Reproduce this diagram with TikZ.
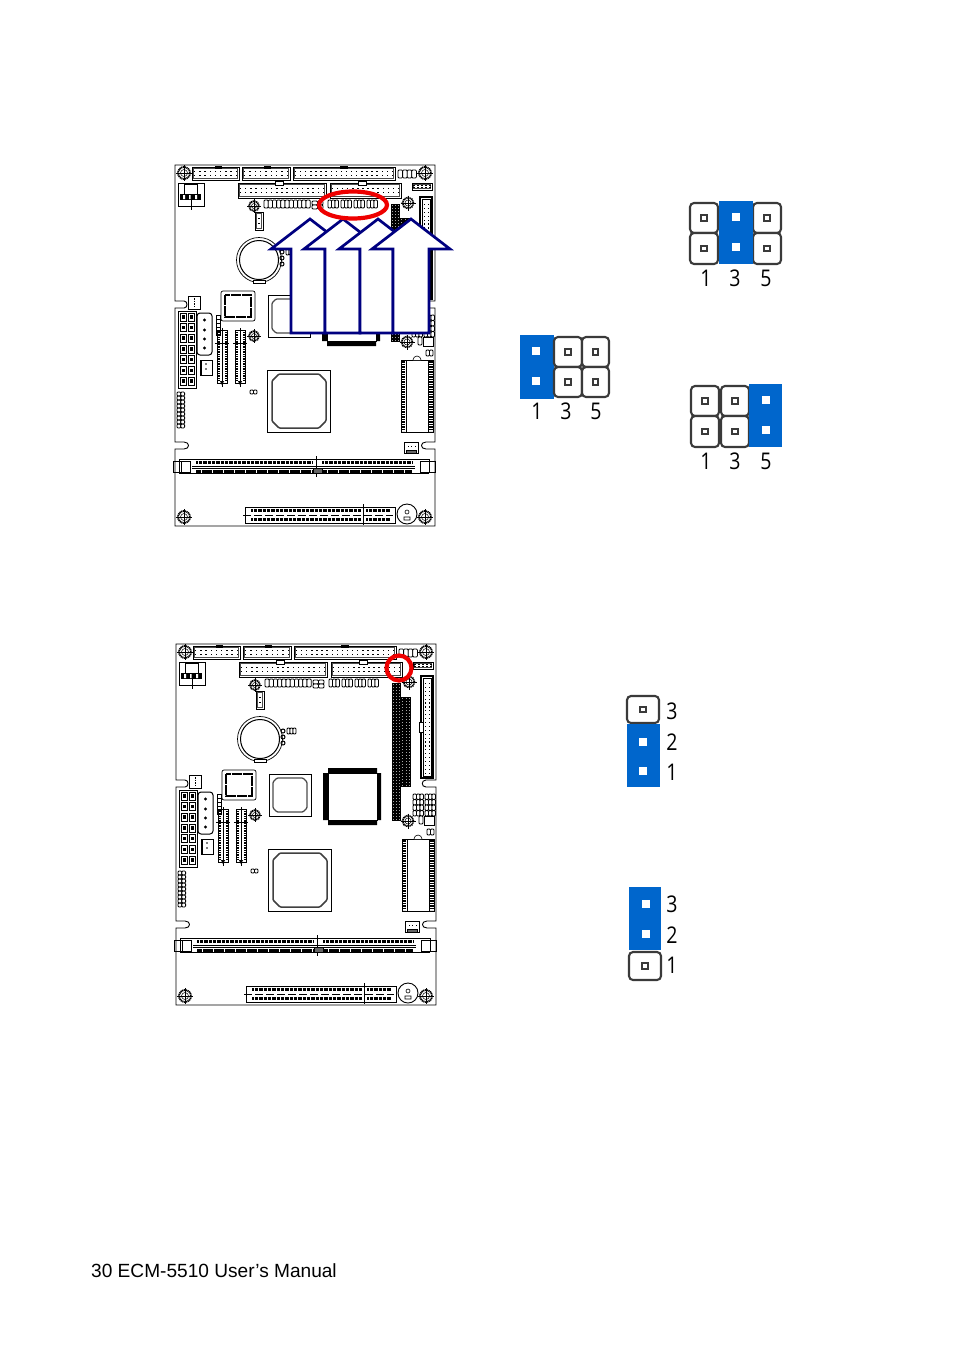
\documentclass[tikz,border=0pt]{standalone}
\usepackage{fontspec}
\setmainfont{Liberation Sans}
\newfontfamily\numfont{Open Sans}
\definecolor{jblue}{HTML}{0066CC}
\definecolor{pinedge}{HTML}{3A3A3A}
\definecolor{navyarrow}{HTML}{000080}
\definecolor{redmark}{HTML}{EE0000}
\tikzset{
  brd/.style={draw=black,line width=0.8pt},
  pinbox/.style={draw=pinedge,line width=2.1pt,rounded corners=4pt,fill=white},
  bigarrow/.style={draw=navyarrow,line width=2.7pt,fill=white,line join=miter},
  numlabel/.style={font=\numfont\fontsize{23}{23}\selectfont,text=black,inner sep=0pt,xscale=.85},
  ringmark/.style={draw=redmark,line width=4.2pt}
}
% rectangular header with two rows of dots
\newcommand{\hdr}[5]{%
  \draw[brd,fill=white] (#1,#2) rectangle (#3,#4);
  \draw[black!70,line width=.3pt] (#1+1.5,#2+1.5) rectangle (#3-1.5,#4-1.5);
  \foreach \q in {1,...,#5}{
    \fill[black] ({#1+(#3-#1)*(\q-.5)/#5-.7},{#2+(#4-#2)*.36-.7}) rectangle +(1.4,1.4);
    \fill[black] ({#1+(#3-#1)*(\q-.5)/#5-.7},{#2+(#4-#2)*.64-.7}) rectangle +(1.4,1.4);
  }}
% a row of small rounded cells
\newcommand{\cells}[5]{%
  \foreach \q in {1,...,#5}{
    \draw[black,line width=.8pt,rounded corners=1pt,fill=white] ({#1+(\q-1)*#3},#2) rectangle +(#3,#4);
  }}
\newcommand{\mounthole}[3]{%
  \draw[black,line width=1.8pt,dash pattern=on 1.2pt off .6pt] (#1,#2) circle (#3);
  \draw[black,line width=.5pt] (#1-#3-2,#2) -- (#1+#3+2,#2) (#1,#2-#3-2) -- (#1,#2+#3+2);
  \draw[black,line width=.5pt] (#1,#2) circle (#3-2.5);}
\newcommand{\pingrid}[6]{% x y columns rows cellw cellh
  \fill[black] (#1,#2) rectangle +({#3*#5},{#4*#6});
  \foreach \c in {1,...,#3}{\foreach \r in {1,...,#4}{
    \fill[black!35] ({#1+(\c-.5)*#5-.4},{#2+(\r-.5)*#6-.4}) rectangle +(.8,.8);}}}
\newcommand{\board}[1]{%
\begin{scope}[shift={#1}]
  % outline with four notches
  \draw[black,line width=.9pt,fill=white]
    (0,0) -- (260,0) -- (260,136) -- (250,136) .. controls (245,136) and (245,143) .. (250,143) -- (260,143)
    -- (260,277) -- (251,277) .. controls (245,277) and (245,284) .. (251,284) -- (260,284)
    -- (260,361) -- (0,361) -- (0,284) -- (9,284) .. controls (15,284) and (15,277) .. (9,277) -- (0,277)
    -- (0,143) -- (9,143) .. controls (13,143) and (13,136) .. (9,136) -- (0,136) -- cycle;
  % top connectors
  \hdr{17}{2}{64}{15}{9}
  \hdr{67}{2}{115}{15}{9}
  \hdr{118}{2}{220}{15}{20}
  \hdr{63}{18}{151}{33}{17}
  \hdr{155}{18}{226}{33}{14}
  \fill[white] (100,16) rectangle (108,20); \draw[black,line width=.5pt] (100,16) rectangle (108,20);
  \fill[white] (183,16) rectangle (191,20); \draw[black,line width=.5pt] (183,16) rectangle (191,20);
  \draw[black,line width=.5pt] (40,1) rectangle (46,3) (89,1) rectangle (95,3) (165,1) rectangle (172,3);
  \cells{223}{5}{4.6}{8}{4}
  \hdr{237}{18}{257}{25}{5}
  \mounthole{9}{8}{6}
  \mounthole{250}{8}{6}
  \mounthole{233}{38}{5.5}
  \mounthole{232}{177}{5.5}
  \mounthole{9}{352}{6}
  \mounthole{250}{352}{6}
  \mounthole{79}{41}{5}
  \mounthole{79}{171}{5}
  % upper left block
  \draw[black,line width=.5pt,fill=white] (3,18) rectangle (29,41);
  \draw[black,line width=.6pt] (9,19) rectangle (22,29);
  \fill[black] (5,29) rectangle (26,35);
  \fill[white] (8,30) rectangle (10,34) (14,30) rectangle (15.5,34) (20,30) rectangle (22,34);
  \draw[black,line width=.5pt] (16,35) -- (16,45);
  % small jumper rows
  \cells{89}{35}{4.2}{8}{11}
  \cells{137}{36}{5.5}{4}{2}
  \cells{137}{40}{5.5}{4}{2}
  \cells{153}{35}{3.5}{8}{3}
  \cells{166}{35}{3.5}{8}{3}
  \cells{179}{35}{3.5}{8}{3}
  \cells{192}{35}{3.5}{8}{3}
  \hdr{80}{47}{88}{65}{1}
  % battery
  \draw[black,line width=.7pt] (84,95) circle (22.5);
  \draw[black,line width=1pt] (84,95) circle (19.5);
  \draw[black,line width=.8pt,fill=white] (78,115) rectangle (90,118);
  \foreach \q in {87,93,99}{\draw[black,line width=1pt] (107,\q) circle (2);}
  \cells{111}{84}{3}{6}{3}
  % plcc
  \draw[black,line width=.7pt,rounded corners=2pt] (46,126) rectangle (80,156);
  \draw[black,line width=2.2pt,dash pattern=on .8pt off .3pt] (50,130) -- (76,130) -- (76,152) -- (50,152) -- cycle;
  % square chip
  \draw[black,line width=.6pt,fill=white] (93,130) rectangle (135,172);
  \draw[black!70,line width=1.3pt,rounded corners=1pt]
    (101,134) -- (127,134) -- (131,138) -- (131,164) -- (127,168) -- (101,168) -- (97,164) -- (97,138) -- cycle;
  % QFP
  \draw[black,line width=.6pt,fill=white] (152,129) rectangle (201,176);
  \fill[black] (152,124) rectangle (201,129) (152,176) rectangle (201,181) (147,129) rectangle (152,176) (201,129) rectangle (205,176);
  % black pin columns
  \pingrid{216}{39}{3}{46}{3}{3}
  \pingrid{225}{53}{3}{30}{3.3}{3}
  % right connector
  \draw[brd,line width=1.1pt,fill=white] (245,32) rectangle (257,134);
  \draw[black,line width=.4pt] (247,34) rectangle (255,132);
  \foreach \q in {1,...,24}{
    \fill[black] (249,{35+\q*3.9}) rectangle +(1.2,1.2);
    \fill[black] (252.5,{35+\q*3.9}) rectangle +(1.2,1.2);}
  \fill[white] (243,78) rectangle (247,88); \draw[black,line width=.5pt] (243,78) rectangle (247,88);
  % lower right jumpers
  \foreach \w in {150,155.5,161,166.5}{
    \edef\wy{\w}
    \foreach \c in {0,1,2}{
      \draw[black,line width=.8pt,rounded corners=1pt,fill=white] (237+\c*3.5,\w) rectangle +(3.5,5.5);
      \draw[black,line width=.8pt,rounded corners=1pt,fill=white] (249+\c*3.5,\w) rectangle +(3.5,5.5);}}
  \cells{243}{172}{4}{8}{1}
  \draw[brd,fill=white] (248,172) rectangle (258,181);
  \cells{251}{185}{3.5}{6}{2}
  % left power connector
  \draw[black,line width=1pt,fill=white] (3,146) rectangle (21,223);
  \foreach \r in {0,...,6}{\foreach \c in {0,1}{
    \draw[black,line width=.8pt] (5+\c*8,148+\r*10.7) rectangle +(6.5,8);
    \fill[black] (7+\c*8,150+\r*10.7) rectangle +(2.6,3.6);}}
  % four pin white connector
  \draw[black,line width=1pt,rounded corners=3pt,fill=white] (22,148) rectangle (37,190);
  \foreach \q in {155,165,174,183}{\fill[black] (29.5,\q) circle (1.6);}
  \draw[brd,fill=white] (13,131) rectangle (25,144);
  \draw[black,line width=.6pt,dash pattern=on 1.5pt off 1pt] (19,133) -- (19,143);
  \foreach \q in {150,154,158,162,166}{\draw[black,line width=.7pt] (41,\q) rectangle +(4,4);}
  % vertical slots
  \foreach \xx in {42,60}{
    \draw[black,line width=.6pt] (\xx,165) rectangle (\xx+10,218);
    \draw[black,line width=2pt,dash pattern=on 1pt off .7pt] (\xx+1.5,167) -- (\xx+1.5,216);
    \draw[black,line width=2pt,dash pattern=on 1pt off .7pt] (\xx+8.5,167) -- (\xx+8.5,216);
    \draw[black,line width=.5pt] (\xx-2,178) -- (\xx+12,178) (\xx+5,163) -- (\xx+5,222);
    \fill[black] (\xx+3,216) -- (\xx+7,216) -- (\xx+5,220) -- cycle;}
  \draw[brd,fill=white] (25,195) rectangle (37,210);
  \fill[black] (25,195) rectangle (27,210);
  \foreach \q in {199,204}{\fill[black] (31,\q) circle (.8);}
  \cells{75}{225}{3.5}{4}{2}
  % strip at left
  \foreach \w in {0,...,8}{
    \draw[black,line width=.8pt,rounded corners=1pt] (2,227+\w*4) rectangle +(3.8,4);
    \draw[black,line width=.8pt,rounded corners=1pt] (5.8,227+\w*4) rectangle +(3.8,4);}
  % large chip
  \draw[black,line width=.6pt,fill=white] (92,205) rectangle (155,267);
  \draw[black!75,line width=1.5pt,rounded corners=1pt]
    (104,209) -- (144,209) -- (151,216) -- (151,256) -- (144,263) -- (104,263) -- (97,256) -- (97,216) -- cycle;
  % DIP right
  \draw[brd,fill=white] (226,195) rectangle (258,267);
  \draw[black,line width=.5pt] (231,195) rectangle (253,267);
  \draw[black,line width=3.5pt,dash pattern=on 1.6pt off .9pt] (228,196) -- (228,266);
  \draw[black,line width=3.5pt,dash pattern=on 1.6pt off .9pt] (256,196) -- (256,266);
  \draw[black,line width=.6pt,fill=white] (238,195) arc[start angle=180,end angle=360,radius=4];
  \draw[brd,fill=white] (229,277) rectangle (243,288);
  \foreach \q in {232.5,236,239.5}{\fill[black] (\q,281) rectangle +(1.2,1.2);}
  \draw[black,fill=black!60] (231,285) rectangle (241,288);
  % DIMM
  \draw[black,line width=.8pt] (4,294) -- (254,294) (4,308) -- (254,308) (4,294) -- (4,308) (254,294) -- (254,308);
  \draw[black,line width=.5pt] (-2,296) rectangle (15,307);
  \draw[black,line width=.5pt] (245,296) rectangle (260,307);
  \draw[black,line width=.8pt,fill=white] (6,296) rectangle (15,307) (245,296) rectangle (254,307);
  \draw[black,line width=3pt,dash pattern=on 1pt off .3pt] (21,297.5) -- (137,297.5) (147,297.5) -- (237,297.5);
  \draw[black,line width=3pt,dash pattern=on .8pt off .3pt] (21,306) -- (137,306) (147,306) -- (237,306);
  \draw[black,line width=.7pt] (17,301) -- (240,301) (17,303) -- (240,303);
  \draw[black,line width=.5pt] (141,291) -- (141,312);
  \draw[black,fill=black!60,line width=.6pt] (138,303) rectangle (147,308);
  % bottom connector
  \draw[black,line width=.7pt] (70,342) rectangle (220,358);
  \draw[black,line width=2.6pt,dash pattern=on 1pt off .3pt] (76,345.5) -- (186,345.5) (191,345.5) -- (215,345.5);
  \draw[black,line width=2.6pt,dash pattern=on 1pt off .3pt] (76,354.5) -- (186,354.5) (191,354.5) -- (215,354.5);
  \draw[black,line width=.6pt,dash pattern=on 8pt off 3pt] (68,350) -- (218,350);
  \draw[black,line width=.5pt] (188,339) -- (188,360);
  \draw[black,line width=.9pt,fill=white] (232,349) circle (10);
  \draw[black,line width=.6pt] (232,347) circle (2) (229,352) rectangle (235,355);
\end{scope}}
% jumper pin
\newcommand{\pinbox}[4]{%
  \draw[pinbox] (#1,#2) rectangle (#3,#4);
  \draw[pinedge,line width=1.9pt] ({(#1+#3)/2-2.9},{(#2+#4)/2-2.9}) rectangle +(5.8,5.8);}
\newcommand{\whitesq}[2]{\fill[white] (#1-3.6,#2-3.6) rectangle +(7.2,7.2);}
\begin{document}
\begin{tikzpicture}[x=1pt,y=-1pt]
  \useasboundingbox[fill=white] (0,0) rectangle (954,1350);
  \board{(175,165)}
  \board{(176,644)}
  % arrows
  \foreach \n/\tip/\sl/\sr in {a/310/291/325,b/343/325/360,c/378/360/393,d/411/393/429}{
    \draw[bigarrow] (\sl,333) -- (\sl,249) -- (\tip-39,249) -- (\tip,219) -- (\tip+39,249) -- (\sr,249) -- (\sr,333) -- cycle;
  }
  % red marks
  \draw[ringmark] (353,205) ellipse[x radius=34,y radius=13.5];
  \draw[ringmark] (399,668) circle (12.5);
  % jumper 1-3-5, top right
  \pinbox{690}{203}{718}{233}\pinbox{690}{233}{718}{264}
  \pinbox{753}{203}{781}{233}\pinbox{753}{233}{781}{264}
  \fill[jblue] (719,201) rectangle (753,264);
  \whitesq{736}{217}\whitesq{736}{247}
  \node[numlabel] (ta) at (706,278) {1};
  \node[numlabel] (tb) at (735,278) {3};
  \node[numlabel] (tc) at (766,278) {5};
  % jumper left
  \fill[jblue] (520,335) rectangle (554,399);
  \whitesq{536}{351}\whitesq{536}{381}
  \pinbox{554}{337}{582}{367}\pinbox{554}{367}{582}{397}
  \pinbox{582}{337}{609}{367}\pinbox{582}{367}{609}{397}
  \node[numlabel] (la) at (537,411) {1};
  \node[numlabel] (lb) at (566,411) {3};
  \node[numlabel] (lc) at (596,411) {5};
  % jumper lower right
  \pinbox{691}{386}{719}{416}\pinbox{691}{416}{719}{447}
  \pinbox{721}{386}{749}{416}\pinbox{721}{416}{749}{447}
  \fill[jblue] (749,384) rectangle (782,447);
  \whitesq{766}{400}\whitesq{766}{430}
  \node[numlabel] (ra) at (706,461) {1};
  \node[numlabel] (rb) at (735,461) {3};
  \node[numlabel] (rc) at (766,461) {5};
  % vertical jumpers
  \pinbox{627}{696}{659}{723}
  \fill[jblue] (627,724) rectangle (660,787);
  \whitesq{643}{742}\whitesq{643}{771}
  \node[numlabel] (va) at (672,711) {3};
  \node[numlabel] (vb) at (672,742) {2};
  \node[numlabel] (vc) at (672,772) {1};
  \fill[jblue] (629,887) rectangle (661,950);
  \whitesq{646}{904}\whitesq{646}{934}
  \pinbox{629}{952}{661}{980}
  \node[numlabel] (wa) at (672,904) {3};
  \node[numlabel] (wb) at (672,935) {2};
  \node[numlabel] (wc) at (672,965) {1};
  % footer
  \node[anchor=base west,inner sep=0pt,font=\fontsize{19.1}{20}\selectfont] (footer) at (91,1277) {30 ECM-5510 User’s Manual};
\end{tikzpicture}
\end{document}
